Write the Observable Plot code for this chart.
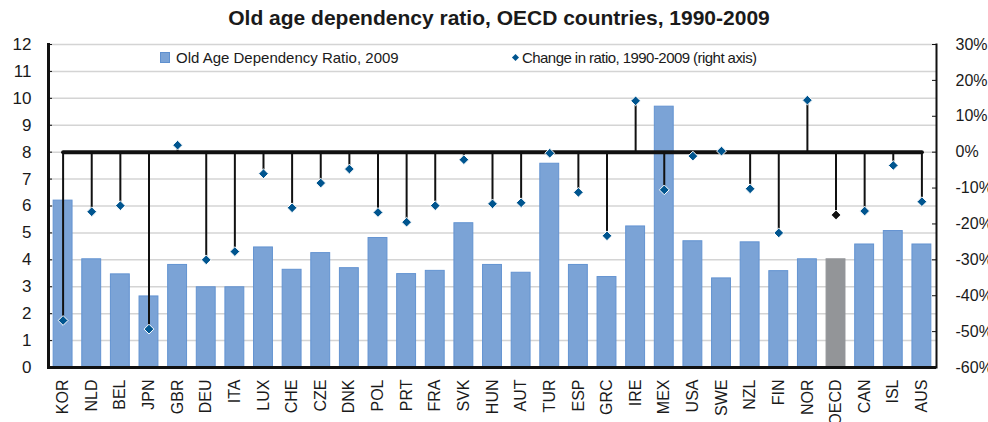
<!DOCTYPE html>
<html><head><meta charset="utf-8">
<script src="https://cdn.jsdelivr.net/npm/d3@7"></script>
<script src="https://cdn.jsdelivr.net/npm/@observablehq/plot@0.6"></script>
<style>
body{margin:0;background:#fff;font-family:"Liberation Sans",Arial,sans-serif;color:#1a1a1a;}
#wrap{position:relative;width:988px;height:422px;overflow:hidden;}
#title{box-sizing:border-box;height:30px;padding-top:6px;line-height:24px;text-align:center;font-weight:bold;font-size:21px;padding-left:10px;}
.leg{position:absolute;font-size:15px;line-height:16px;white-space:nowrap;}
.sq{position:absolute;width:8px;height:9px;background:#7ba3d6;border:1px solid #5f90cf;}
.dm{position:absolute;width:5px;height:5px;background:#00558f;transform:rotate(45deg);}
</style></head>
<body>
<div id="wrap">
<div id="title">Old age dependency ratio, OECD countries, 1990-2009</div>
<div id="chart"></div>
<div class="sq" style="left:160px;top:52px;"></div>
<div class="leg" style="left:176px;top:50px;">Old Age Dependency Ratio, 2009</div>
<div class="dm" style="left:513px;top:55px;"></div>
<div class="leg" style="left:522px;top:50px;letter-spacing:-0.55px;">Change in ratio, 1990-2009 (right axis)</div>
</div>
<script>
const countries = ["KOR","NLD","BEL","JPN","GBR","DEU","ITA","LUX","CHE","CZE","DNK","POL","PRT","FRA","SVK","HUN","AUT","TUR","ESP","GRC","IRE","MEX","USA","SWE","NZL","FIN","NOR","OECD","CAN","ISL","AUS"];
const ratio2009 = [6.2,4.02,3.46,2.64,3.81,2.98,2.98,4.46,3.63,4.25,3.69,4.81,3.47,3.59,5.36,3.81,3.52,7.57,3.81,3.36,5.24,9.69,4.69,3.31,4.65,3.58,4.02,4.02,4.57,5.07,4.57];
const changePct = [-46.9,-16.6,-14.9,-49.3,1.95,-30.0,-27.7,-6.0,-15.5,-8.6,-4.7,-16.8,-19.5,-14.9,-2.1,-14.4,-14.1,-0.3,-11.2,-23.3,14.3,-10.5,-1.1,0.3,-10.2,-22.5,14.5,-17.5,-16.4,-3.7,-13.8];
const leftTicks = [0,1,2,3,4,5,6,7,8,9,10,11,12];
const rightTicks = [30,20,10,0,-10,-20,-30,-40,-50,-60];

// right axis (-60%..30%) mapped onto left axis (0..12)
const toLeft = p => 8 + p / 7.5;
const data = countries.map((c, i) => ({c, r: ratio2009[i], ch: changePct[i], oecd: c === "OECD"}));

const chart = Plot.plot({
  width: 988, height: 392,
  marginTop: 14, marginBottom: 55, marginLeft: 48, marginRight: 52,
  x: {domain: countries, paddingInner: 0.34, paddingOuter: 0.18, round: false, axis: null},
  y: {domain: [0, 12], axis: null},
  style: {fontFamily: "'Liberation Sans', Arial, sans-serif", fontSize: "16px", color: "#1a1a1a", background: "#fff"},
  marks: [
    Plot.gridY(leftTicks, {stroke: "#d4d4d4", strokeOpacity: 1, strokeWidth: 1.5}),
    Plot.barY(data, {x: "c", y: "r", fill: d => d.oecd ? "#939598" : "#7ba3d6", stroke: d => d.oecd ? "#939598" : "#6393d1", strokeWidth: 1}),
    Plot.line(data, {x: "c", y: () => 8, stroke: "#111", strokeWidth: 4}),
    Plot.ruleX(data, {x: "c", y1: () => 8, y2: d => toLeft(d.ch), stroke: "#111", strokeWidth: 2}),
    Plot.dot(data, {x: "c", y: d => toLeft(d.ch), symbol: "diamond2", r: 4.4, fill: d => d.oecd ? "#111" : "#00558f", stroke: "#fff", strokeWidth: 1}),
    Plot.ruleY([0], {stroke: "#111", strokeWidth: 3}),
    Plot.frame({anchor: "left", stroke: "#111", strokeWidth: 3}),
    Plot.frame({anchor: "right", stroke: "#111", strokeWidth: 2}),
    Plot.axisY(leftTicks, {anchor: "left", label: null, tickSize: -4, tickPadding: 21, stroke: "#111", fontSize: 17}),
    Plot.axisY(rightTicks.map(toLeft), {anchor: "right", label: null, tickSize: -5, tickPadding: 24, stroke: "#111", fontSize: 16,
      fontFamily: "'Liberation Sans Narrow', 'Arial Narrow', sans-serif",
      tickFormat: v => Math.round((v - 8) * 7.5) + "%"}),
    Plot.axisX({anchor: "bottom", label: null, tickSize: 0, tickPadding: 12, tickRotate: -90, fontSize: 16})
  ]
});
document.getElementById("chart").appendChild(chart);
</script>
</body></html>
